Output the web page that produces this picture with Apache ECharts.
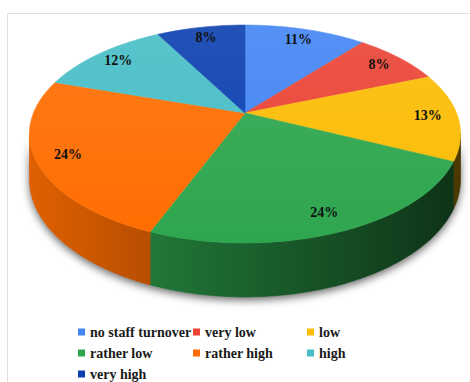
<!DOCTYPE html>
<html><head><meta charset="utf-8">
<script src="https://cdn.jsdelivr.net/npm/echarts@6/dist/echarts.min.js"></script>
<style>html,body{margin:0;padding:0;background:#fff}#c{width:470px;height:382px}</style>
</head><body><div id="c"></div>
<script>
// ---- data ----
const categories = ['no staff turnover', 'very low', 'low', 'rather low', 'rather high', 'high', 'very high'];
const values = [11, 8, 13, 24, 24, 12, 8];
const legendCol1 = ['no staff turnover', 'rather low', 'very high'];
const legendCol2 = ['very low', 'rather high'];
const legendCol3 = ['low', 'high'];
const colors = ['#4285F4', '#EA4335', '#FBBC04', '#2EA64E', '#FF6D01', '#46BDC6', '#0B3FAF'];

// ---- geometry (perspective 3D pie) ----
const CX = 245, CY = 113, A = 104.9, B = 211.5, C = -0.1927, D = 43.6;
const FONT_FAMILY = 'Liberation Serif';
const total = values.reduce((s, v) => s + v, 0);
const T1 = Math.acos(C), T2 = 2 * Math.PI - Math.acos(C); // silhouette angles
function proj(theta, r, bottom) {
  const u = r * Math.sin(theta), v = -r * Math.cos(theta);
  const k = 1 + C * v;
  const vv = -Math.cos(theta), kk = 1 + C * vv;
  return [CX + B * u / k, CY + A * v / k + (bottom ? D / kk : 0)];
}
function arc(a0, a1, bottom) {
  const pts = [];
  const n = Math.max(2, Math.ceil((a1 - a0) / 0.02));
  for (let i = 0; i <= n; i++) pts.push(proj(a0 + (a1 - a0) * i / n, 1, bottom));
  return pts;
}
function rgb(hex) { return [1, 3, 5].map(i => parseInt(hex.substr(i, 2), 16)); }
function shade(hex, f) { const c = rgb(hex); return 'rgb(' + c.map(x => Math.round(x * f)).join(',') + ')'; }
function lighten(hex, f) { const c = rgb(hex); return 'rgb(' + c.map(x => Math.round(x + (255 - x) * f)).join(',') + ')'; }

function makeRender(i) {
  return function (params, api) {
    const v = api.value(0);
    let start = 0;
    for (let j = 0; j < i; j++) start += values[j];
    const a0 = start / total * 2 * Math.PI, a1 = (start + v) / total * 2 * Math.PI;
    const base = colors[i];
    const children = [];
    const s0 = Math.max(a0, T1), s1 = Math.min(a1, T2);
    if (s1 > s0) {
      const pts = arc(s0, s1, false).concat(arc(s0, s1, true).reverse());
      const g = { type: 'linear', x: 30, y: 0, x2: 460, y2: 0, global: true,
        colorStops: [{ offset: 0, color: shade(base, 0.88) }, { offset: 1, color: shade(base, 0.3) }] };
      children.push({ type: 'polygon', shape: { points: pts }, style: { fill: g, stroke: g, lineWidth: 0.6 } });
    }
    const tg = { type: 'linear', x: 0, y: 25, x2: 0, y2: 245, global: true,
      colorStops: [{ offset: 0, color: lighten(base, 0.1) }, { offset: 1, color: base }] };
    const top = [[CX, CY]].concat(arc(a0, a1, false));
    children.push({ type: 'polygon', shape: { points: top }, style: { fill: tg, stroke: tg, lineWidth: 0.6 } });
    const lp = proj((a0 + a1) / 2, 0.86, false);
    children.push({ type: 'text', style: { text: Math.round(v / total * 100) + '%', x: lp[0], y: lp[1],
      align: 'center', verticalAlign: 'middle', fill: '#111',
      fontFamily: FONT_FAMILY, fontWeight: 'bold', fontSize: 14 } });
    return { type: 'group', children: children };
  };
}

const series = [{
  type: 'custom', name: '__shadow', coordinateSystem: 'none', z: 1, silent: true,
  data: [[1]],
  renderItem: function () {
    const pts = arc(T1, T2, false).concat(arc(T1, T2, true).reverse());
    return { type: 'polygon', shape: { points: pts },
      style: { fill: '#888', shadowBlur: 8, shadowOffsetY: 3, shadowColor: 'rgba(0,0,0,0.6)' } };
  }
}];
categories.forEach((name, i) => {
  series.push({ type: 'custom', name: name, coordinateSystem: 'none', z: 2, silent: true,
    itemStyle: { color: colors[i] }, data: [[values[i]]], renderItem: makeRender(i) });
});

const legendBase = { orient: 'vertical', icon: 'rect', itemWidth: 7, itemHeight: 7, itemGap: 5, padding: 0,
  top: 324, selectedMode: false,
  textStyle: { fontFamily: FONT_FAMILY, fontWeight: 'bold', fontSize: 14, color: '#1a1a1a', lineHeight: 16 } };

const chart = echarts.init(document.getElementById('c'), null, { renderer: 'svg' });
chart.setOption({
  animation: false,
  backgroundColor: '#fff',
  graphic: [{ type: 'polyline', shape: { points: [[7.5, 382], [7.5, 13.5], [470, 13.5]] },
    style: { stroke: '#dedede', lineWidth: 1, fill: null }, silent: true }],
  legend: [
    Object.assign({}, legendBase, { left: 78, data: legendCol1 }),
    Object.assign({}, legendBase, { left: 193, data: legendCol2 }),
    Object.assign({}, legendBase, { left: 307, data: legendCol3 })
  ],
  series: series
});
</script>
</body></html>
